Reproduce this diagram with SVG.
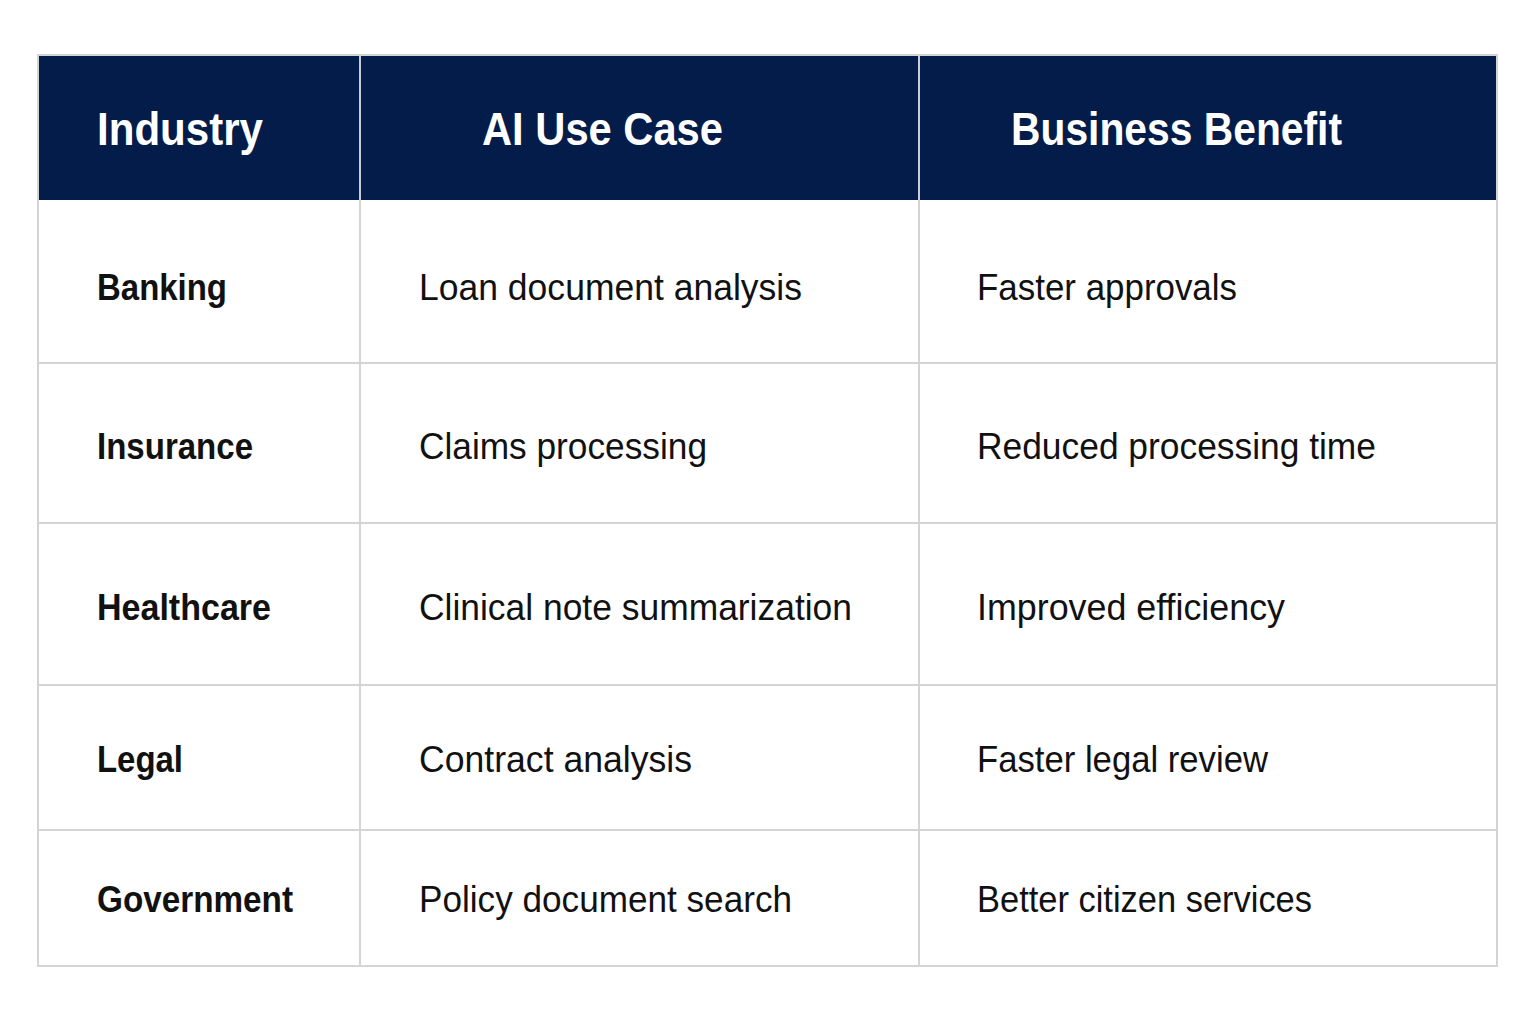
<svg xmlns="http://www.w3.org/2000/svg" width="1536" height="1024" viewBox="0 0 1536 1024">
<style>
.h{font-family:"Liberation Sans",Arial,sans-serif;font-weight:bold;font-size:46px;fill:#fff}
.b{font-family:"Liberation Sans",Arial,sans-serif;font-weight:bold;font-size:36px;fill:#111}
.r{font-family:"Liberation Sans",Arial,sans-serif;font-size:36px;fill:#111}
.g{stroke:#d4d4d4;stroke-width:2;fill:none}
</style>
<rect x="0" y="0" width="1536" height="1024" fill="#fff"/>
<g id="header">
<rect x="38" y="55" width="1459" height="145" fill="#031c4a"/>
<line x1="360" y1="55" x2="360" y2="200" stroke="#c8cdd8" stroke-width="2"/>
<line x1="919" y1="55" x2="919" y2="200" stroke="#c8cdd8" stroke-width="2"/>
<text class="h" x="97" y="145" textLength="166" lengthAdjust="spacingAndGlyphs">Industry</text>
<text class="h" x="482" y="145" textLength="241" lengthAdjust="spacingAndGlyphs">AI Use Case</text>
<text class="h" x="1011" y="145" textLength="331" lengthAdjust="spacingAndGlyphs">Business Benefit</text>
</g>
<g id="grid">
<rect class="g" x="38" y="55" width="1459" height="911"/>
<line class="g" x1="360" y1="200" x2="360" y2="966"/>
<line class="g" x1="919" y1="200" x2="919" y2="966"/>
<line class="g" x1="38" y1="363" x2="1497" y2="363"/>
<line class="g" x1="38" y1="523" x2="1497" y2="523"/>
<line class="g" x1="38" y1="685" x2="1497" y2="685"/>
<line class="g" x1="38" y1="830" x2="1497" y2="830"/>
</g>
<g id="row1">
<text class="b" x="97" y="300" textLength="130" lengthAdjust="spacingAndGlyphs">Banking</text>
<text class="r" x="419" y="300" textLength="383" lengthAdjust="spacingAndGlyphs">Loan document analysis</text>
<text class="r" x="977" y="300" textLength="260" lengthAdjust="spacingAndGlyphs">Faster approvals</text>
</g>
<g id="row2">
<text class="b" x="97" y="459" textLength="156" lengthAdjust="spacingAndGlyphs">Insurance</text>
<text class="r" x="419" y="459" textLength="288" lengthAdjust="spacingAndGlyphs">Claims processing</text>
<text class="r" x="977" y="459" textLength="399" lengthAdjust="spacingAndGlyphs">Reduced processing time</text>
</g>
<g id="row3">
<text class="b" x="97" y="620" textLength="174" lengthAdjust="spacingAndGlyphs">Healthcare</text>
<text class="r" x="419" y="620" textLength="433" lengthAdjust="spacingAndGlyphs">Clinical note summarization</text>
<text class="r" x="977" y="620" textLength="308" lengthAdjust="spacingAndGlyphs">Improved efficiency</text>
</g>
<g id="row4">
<text class="b" x="97" y="772" textLength="86" lengthAdjust="spacingAndGlyphs">Legal</text>
<text class="r" x="419" y="772" textLength="273" lengthAdjust="spacingAndGlyphs">Contract analysis</text>
<text class="r" x="977" y="772" textLength="291" lengthAdjust="spacingAndGlyphs">Faster legal review</text>
</g>
<g id="row5">
<text class="b" x="97" y="912" textLength="196" lengthAdjust="spacingAndGlyphs">Government</text>
<text class="r" x="419" y="912" textLength="373" lengthAdjust="spacingAndGlyphs">Policy document search</text>
<text class="r" x="977" y="912" textLength="335" lengthAdjust="spacingAndGlyphs">Better citizen services</text>
</g>
</svg>
